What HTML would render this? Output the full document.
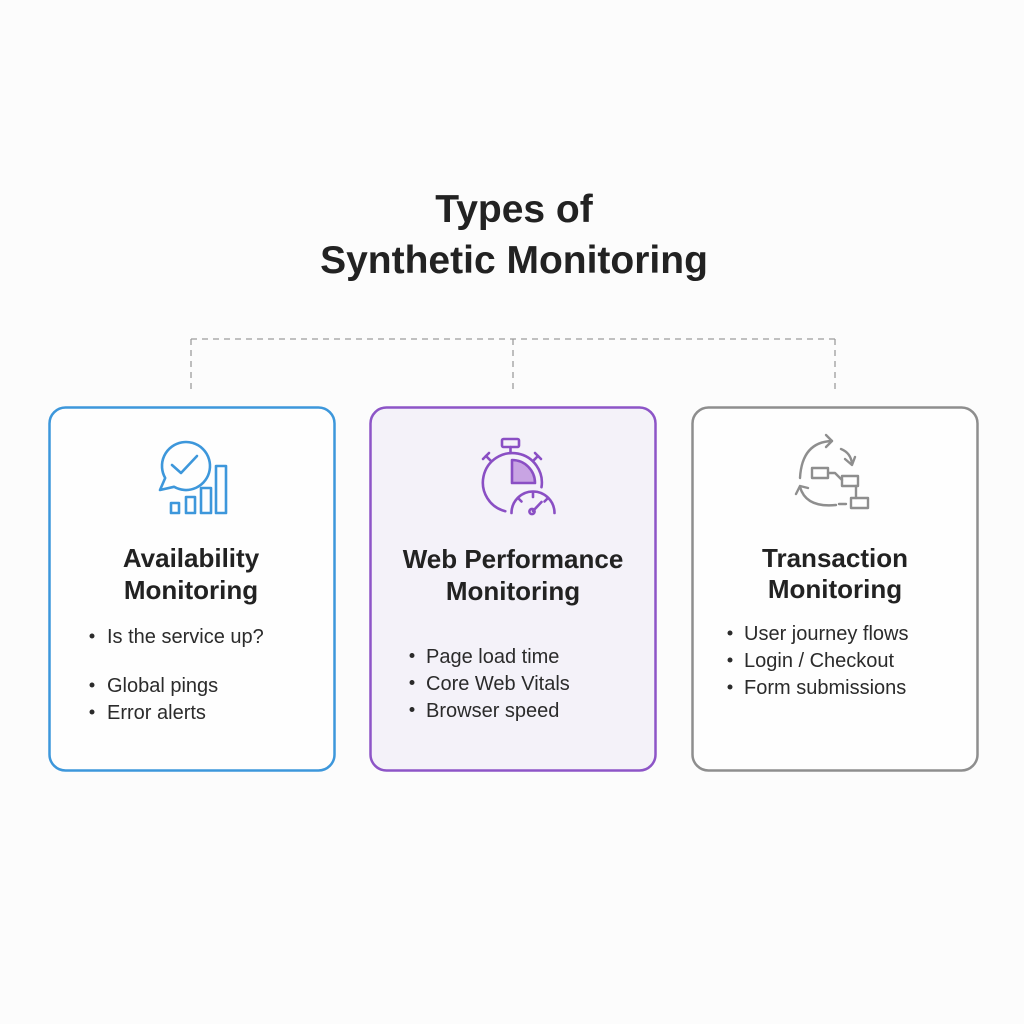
<!DOCTYPE html>
<html>
<head>
<meta charset="utf-8">
<style>
  html, body { margin:0; padding:0; background:#fcfcfc; }
  body { width:1024px; height:1024px; overflow:hidden; }
  svg { display:block; }
  .t { font-family:"Liberation Sans", sans-serif; }
</style>
</head>
<body>
<svg width="1024" height="1024" viewBox="0 0 1024 1024" xmlns="http://www.w3.org/2000/svg">
  <rect x="0" y="0" width="1024" height="1024" fill="#fcfcfc"/>

  <!-- Title -->
  <text class="t" x="514" y="222" text-anchor="middle" font-size="39" font-weight="bold" fill="#222">Types of</text>
  <text class="t" x="514" y="273" text-anchor="middle" font-size="39" font-weight="bold" fill="#222">Synthetic Monitoring</text>

  <!-- Dashed connectors -->
  <g stroke="#9c9c9c" stroke-width="1.3" stroke-dasharray="6 5" fill="none">
    <line x1="191" y1="339" x2="835" y2="339"/>
    <line x1="191" y1="339" x2="191" y2="392"/>
    <line x1="513" y1="339" x2="513" y2="392"/>
    <line x1="835" y1="339" x2="835" y2="392"/>
  </g>

  <!-- Cards -->
  <rect x="49.5" y="407.5" width="285" height="363" rx="16" fill="#fefefe" stroke="#3d97db" stroke-width="2.5"/>
  <rect x="370.5" y="407.5" width="285" height="363" rx="16" fill="#f4f2f9" stroke="#8d55c7" stroke-width="2.5"/>
  <rect x="692.5" y="407.5" width="285" height="363" rx="16" fill="#fefefe" stroke="#8e8e8e" stroke-width="2.5"/>

  <!-- Icon 1: availability -->
  <g stroke="#3d97db" stroke-width="2.6" fill="none" stroke-linejoin="round" stroke-linecap="round">
    <path d="M174 486.8 A24 24 0 1 0 165.2 478 L160 490 Z"/>
    <polyline points="172,465 181,473 197,456"/>
    <rect x="171" y="503" width="8" height="10"/>
    <rect x="186" y="497" width="9" height="16"/>
    <rect x="201" y="488" width="10" height="25"/>
    <rect x="216" y="466" width="10" height="47"/>
  </g>

  <!-- Icon 2: stopwatch + gauge -->
  <g stroke="#8a4fc4" stroke-width="2.6" fill="none" stroke-linejoin="round" stroke-linecap="round">
    <path d="M541.5 487.2 A29.5 29.5 0 1 0 505.3 511.2"/>
    <rect x="502" y="439" width="17" height="8" rx="1.5"/>
    <line x1="510.5" y1="447" x2="510.5" y2="452"/>
    <line x1="490.8" y1="460.8" x2="486" y2="456"/>
    <line x1="483" y1="459" x2="489" y2="453"/>
    <line x1="533.2" y1="460.8" x2="538" y2="456"/>
    <line x1="535" y1="453" x2="541" y2="459"/>
    <path d="M512 483 L512 460 A23 23 0 0 1 535 483 Z" fill="#c8a4e3"/>
    <path d="M511.5 513 A21.5 21.5 0 0 1 554.5 513"/>
    <line x1="533" y1="492" x2="533" y2="497"/>
    <line x1="518" y1="498" x2="521.5" y2="501.5"/>
    <line x1="548" y1="498" x2="544.5" y2="501.5"/>
    <line x1="533" y1="511" x2="541.5" y2="502"/>
    <circle cx="532" cy="511.5" r="2.6"/>
  </g>

  <!-- Icon 3: transaction flow -->
  <g stroke="#8e8e8e" stroke-width="2.4" fill="none" stroke-linejoin="round" stroke-linecap="round">
    <path d="M800 478 Q802 442 832 441"/>
    <polyline points="826,435 832,441 826,447"/>
    <path d="M841 449 Q851 453 852 464"/>
    <polyline points="845,459 852,465 855,457"/>
    <path d="M836 505 Q806 508 800 487"/>
    <polyline points="796,494 800,486 808,488"/>
    <rect x="812" y="468" width="16" height="10"/>
    <rect x="842" y="476" width="16" height="10"/>
    <rect x="851" y="498" width="17" height="10"/>
    <polyline points="828,473 835,473 842,480"/>
    <line x1="856" y1="486" x2="856" y2="498"/>
    <line x1="839" y1="504" x2="846" y2="504"/>
  </g>

  <!-- Card headings -->
  <g class="t" font-size="26" font-weight="bold" fill="#222" text-anchor="middle">
    <text x="191" y="567" class="t">Availability</text>
    <text x="191" y="599" class="t">Monitoring</text>
    <text x="513" y="568" class="t">Web Performance</text>
    <text x="513" y="600" class="t">Monitoring</text>
    <text x="835" y="567" class="t">Transaction</text>
    <text x="835" y="598" class="t">Monitoring</text>
  </g>

  <!-- Bullets -->
  <g class="t" font-size="20" fill="#2b2b2b">
    <text x="107" y="643" class="t">Is the service up?</text>
    <text x="107" y="692" class="t">Global pings</text>
    <text x="107" y="719" class="t">Error alerts</text>

    <text x="426" y="663" class="t">Page load time</text>
    <text x="426" y="690" class="t">Core Web Vitals</text>
    <text x="426" y="717" class="t">Browser speed</text>

    <text x="744" y="640" class="t">User journey flows</text>
    <text x="744" y="667" class="t">Login / Checkout</text>
    <text x="744" y="694" class="t">Form submissions</text>
  </g>
  <g fill="#2b2b2b">
    <circle cx="92" cy="636" r="2.5"/>
    <circle cx="92" cy="685" r="2.5"/>
    <circle cx="92" cy="712" r="2.5"/>
    <circle cx="412" cy="655.5" r="2.5"/>
    <circle cx="412" cy="682.5" r="2.5"/>
    <circle cx="412" cy="709.5" r="2.5"/>
    <circle cx="730" cy="633" r="2.5"/>
    <circle cx="730" cy="660" r="2.5"/>
    <circle cx="730" cy="687" r="2.5"/>
  </g>
</svg>
</body>
</html>
